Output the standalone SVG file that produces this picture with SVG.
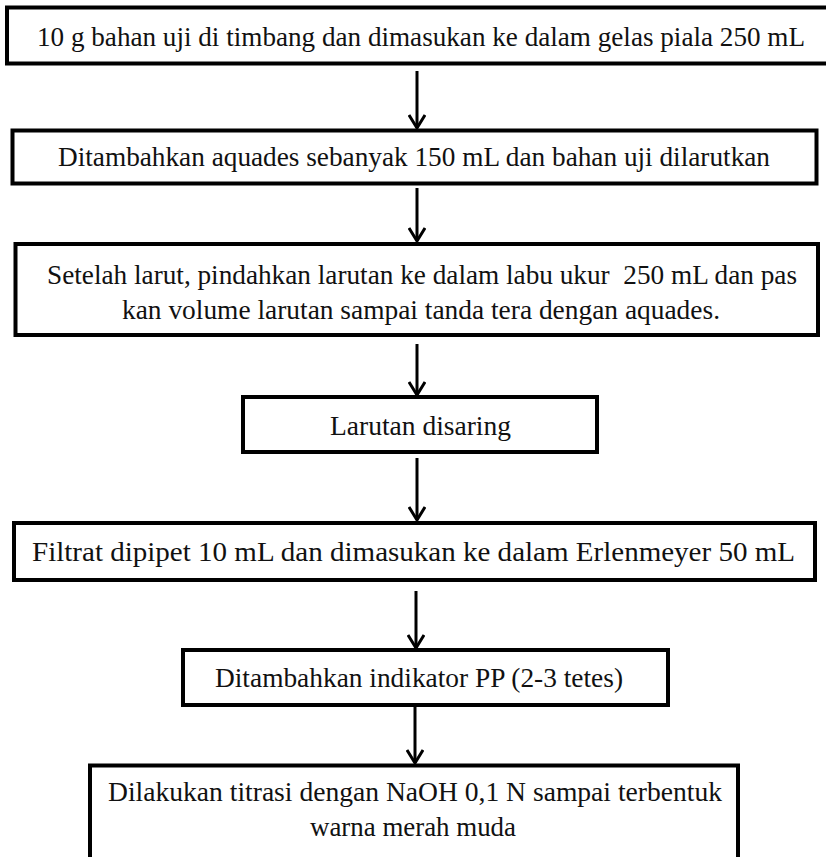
<svg xmlns="http://www.w3.org/2000/svg" width="826" height="857" viewBox="0 0 826 857">
  <style>
    .box { fill: #ffffff; stroke: #000000; stroke-width: 4; }
    .lbl { font-family: "Liberation Serif", "Times New Roman", serif; font-size: 27px; fill: #111111; }
    .flow { stroke: #000000; stroke-width: 3; fill: none; marker-end: url(#vhead); }
  </style>
  <defs>
    <!-- open V arrowhead, drawn along +x so orient="auto" points it down the line -->
    <marker id="vhead" markerWidth="16" markerHeight="18" refX="14" refY="9" orient="auto" markerUnits="userSpaceOnUse" viewBox="0 0 16 18">
      <path d="M1,1 L14,9 L1,17" fill="none" stroke="#000" stroke-width="3"/>
    </marker>
  </defs>
  <rect width="826" height="857" fill="#ffffff"/>

  <g id="connectors">
    <line class="flow" x1="417" y1="71" x2="417" y2="128"/>
    <line class="flow" x1="417" y1="188" x2="417" y2="241"/>
    <line class="flow" x1="417" y1="344" x2="417" y2="395"/>
    <line class="flow" x1="417" y1="458" x2="417" y2="520"/>
    <line class="flow" x1="416" y1="591" x2="416" y2="648"/>
    <line class="flow" x1="415" y1="706" x2="415" y2="763"/>
  </g>

  <g id="step1">
    <rect class="box" x="7" y="7.5" width="830" height="56"/>
    <text class="lbl" x="37" y="46" textLength="768" lengthAdjust="spacingAndGlyphs">10 g bahan uji di timbang dan dimasukan ke dalam gelas piala 250 mL</text>
  </g>

  <g id="step2">
    <rect class="box" x="12.5" y="130.5" width="804" height="53"/>
    <text class="lbl" x="58" y="166" textLength="712" lengthAdjust="spacingAndGlyphs">Ditambahkan aquades sebanyak 150 mL dan bahan uji dilarutkan</text>
  </g>

  <g id="step3">
    <rect class="box" x="15.5" y="244" width="802.5" height="91"/>
    <text class="lbl" x="47" y="284" textLength="750" lengthAdjust="spacingAndGlyphs" xml:space="preserve">Setelah larut, pindahkan larutan ke dalam labu ukur  250 mL dan pas</text>
    <text class="lbl" x="122" y="319" textLength="598" lengthAdjust="spacingAndGlyphs">kan volume larutan sampai tanda tera dengan aquades.</text>
  </g>

  <g id="step4">
    <rect class="box" x="243" y="397" width="354" height="55"/>
    <text class="lbl" x="330" y="435" textLength="181" lengthAdjust="spacingAndGlyphs">Larutan disaring</text>
  </g>

  <g id="step5">
    <rect class="box" x="14" y="523" width="801" height="57"/>
    <text class="lbl" x="32" y="561" textLength="763" lengthAdjust="spacingAndGlyphs">Filtrat dipipet 10 mL dan dimasukan ke dalam Erlenmeyer 50 mL</text>
  </g>

  <g id="step6">
    <rect class="box" x="183" y="650" width="485" height="55"/>
    <text class="lbl" x="215" y="687" textLength="408" lengthAdjust="spacingAndGlyphs">Ditambahkan indikator PP (2-3 tetes)</text>
  </g>

  <g id="step7">
    <rect class="box" x="90" y="765.5" width="648" height="110"/>
    <text class="lbl" x="108" y="801" textLength="614" lengthAdjust="spacingAndGlyphs">Dilakukan titrasi dengan NaOH 0,1 N sampai terbentuk</text>
    <text class="lbl" x="310" y="836" textLength="206" lengthAdjust="spacingAndGlyphs">warna merah muda</text>
  </g>
</svg>
